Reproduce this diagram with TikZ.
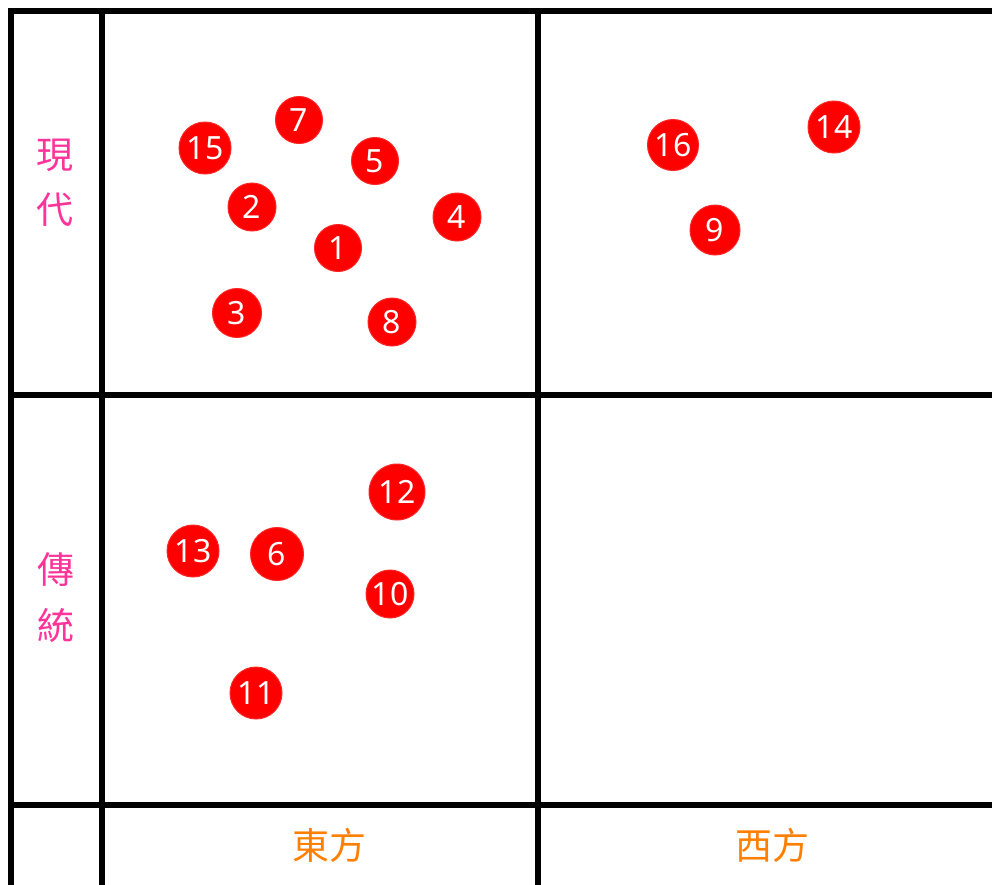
\documentclass[tikz,border=0pt]{standalone}
\usepackage{fontspec}
\newfontfamily\cjk{Noto Sans CJK TC}
\newfontfamily\numfont{Noto Sans}
\definecolor{pinklab}{HTML}{FF3399}
\definecolor{orangelab}{HTML}{FF8000}
\definecolor{dotred}{HTML}{FF0000}
\begin{document}
\begin{tikzpicture}[x=1pt,y=-1pt,
  grid/.style={line width=6pt,black},
  dot/.style={circle,fill=dotred,draw=dotred!85!white,line width=1pt,text=white,inner sep=0pt,font=\numfont\fontsize{32}{32}\selectfont},
  rowlab/.style={text=pinklab,font=\cjk\fontsize{37}{37}\selectfont,inner sep=0pt},
  collab/.style={text=orangelab,font=\cjk\fontsize{37}{37}\selectfont,inner sep=0pt}]
\useasboundingbox (0,0) rectangle (992,884);
\fill[white] (0,0) rectangle (992,884);
% grid
\draw[grid] (1000,11) -- (10.5,11) -- (10.5,890);
\draw[grid] (102,11) -- (102,890);
\draw[grid] (537.5,11) -- (537.5,890);
\draw[grid] (10.5,395) -- (1000,395);
\draw[grid] (10.5,805) -- (1000,805);
% row labels
\node[rowlab] (r1a) at (55,155) {現};
\node[rowlab] (r1b) at (55,210) {代};
\node[rowlab] (r2a) at (56,570) {傳};
\node[rowlab] (r2b) at (56,625) {統};
% column labels
\node[collab] (c1) at (329,845) {東方};
\node[collab] (c2) at (772,845) {西方};
% dots
\node[dot,minimum size=52pt] (d15) at (205,148) {15};
\node[dot,minimum size=47pt] (d7) at (299,120) {7};
\node[dot,minimum size=47pt] (d5) at (375,161) {5};
\node[dot,minimum size=48pt] (d2) at (252,207) {2};
\node[dot,minimum size=48pt] (d4) at (457,217) {4};
\node[dot,minimum size=47pt] (d1) at (338,248) {1};
\node[dot,minimum size=49pt] (d3) at (237,313) {3};
\node[dot,minimum size=48pt] (d8) at (392,322) {8};
\node[dot,minimum size=51pt] (d16) at (673,145) {16};
\node[dot,minimum size=52pt] (d14) at (834,127) {14};
\node[dot,minimum size=50pt] (d9) at (715,230) {9};
\node[dot,minimum size=56pt] (d12) at (397,492) {12};
\node[dot,minimum size=52pt] (d13) at (193,551) {13};
\node[dot,minimum size=53pt] (d6) at (277,554) {6};
\node[dot,minimum size=48pt] (d10) at (390,594) {10};
\node[dot,minimum size=52pt] (d11) at (256,693) {11};
\end{tikzpicture}
\end{document}
